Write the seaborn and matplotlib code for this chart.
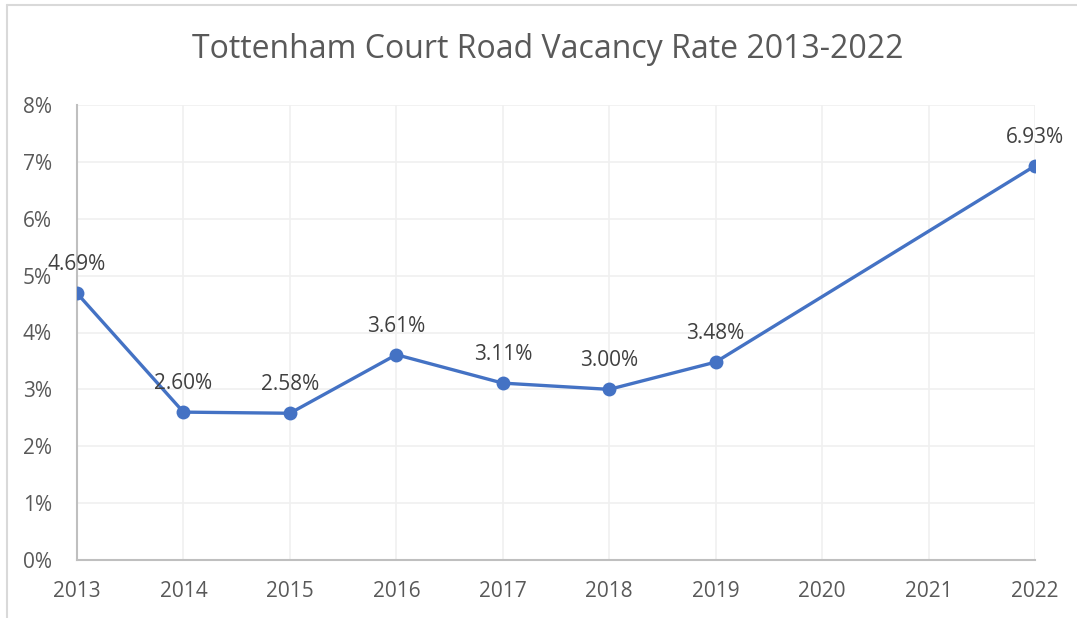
import matplotlib
matplotlib.use("Agg")
import matplotlib.pyplot as plt
import seaborn as sns
import pandas as pd
from matplotlib.lines import Line2D

# Vacancy rate data (2020 and 2021 not reported)
years = [2013, 2014, 2015, 2016, 2017, 2018, 2019, 2022]
rates = [4.69, 2.60, 2.58, 3.61, 3.11, 3.00, 3.48, 6.93]
x_ticks = list(range(2013, 2023))
y_ticks = list(range(0, 9))

df = pd.DataFrame({"Year": years, "Rate": rates})

sns.set_theme(style="white")
plt.rcParams["font.family"] = ["Open Sans", "DejaVu Sans"]

text_col = "#595959"
line_col = "#4472C4"

fig = plt.figure(figsize=(10.77, 6.18), dpi=100)
ax = fig.add_axes([77 / 1077, 1 - 560 / 618, (1035 - 77) / 1077, (560 - 105) / 618])

sns.lineplot(data=df, x="Year", y="Rate", ax=ax, color=line_col, linewidth=2.4,
             marker="o", markersize=10, markeredgewidth=0, zorder=3)

for yr, r in zip(years, rates):
    ax.annotate(f"{r:.2f}%", (yr, r), xytext=(0, 13), textcoords="offset points",
                ha="center", va="bottom", fontsize=15, color="#404040")

ax.set_xlim(2013, 2022)
ax.set_ylim(0, 8)
ax.set_xticks(x_ticks)
ax.set_yticks(y_ticks)
ax.set_yticklabels([f"{v}%" for v in y_ticks])
ax.tick_params(axis="both", length=0, labelsize=15, labelcolor=text_col)
ax.tick_params(axis="y", pad=18)
ax.tick_params(axis="x", pad=15)
ax.set_xlabel("")
ax.set_ylabel("")
ax.grid(True, color="#f0f0f0", linewidth=1.2)
ax.set_axisbelow(True)
for side in ["top", "right"]:
    ax.spines[side].set_visible(False)
for side in ["left", "bottom"]:
    ax.spines[side].set_color("#bfbfbf")
    ax.spines[side].set_linewidth(1.5)

fig.text(548 / 1077, 1 - 50 / 618, "Tottenham Court Road Vacancy Rate 2013-2022",
         ha="center", va="center", fontsize=23, color=text_col)

# light chart border (cropped at right/bottom)
fig.add_artist(Line2D([7 / 1077, 7 / 1077], [0, 1 - 5 / 618], transform=fig.transFigure,
                      color="#d9d9d9", linewidth=1.5))
fig.add_artist(Line2D([7 / 1077, 1], [1 - 5 / 618, 1 - 5 / 618], transform=fig.transFigure,
                      color="#d9d9d9", linewidth=1.5))

fig.savefig("out.png", dpi=100)
